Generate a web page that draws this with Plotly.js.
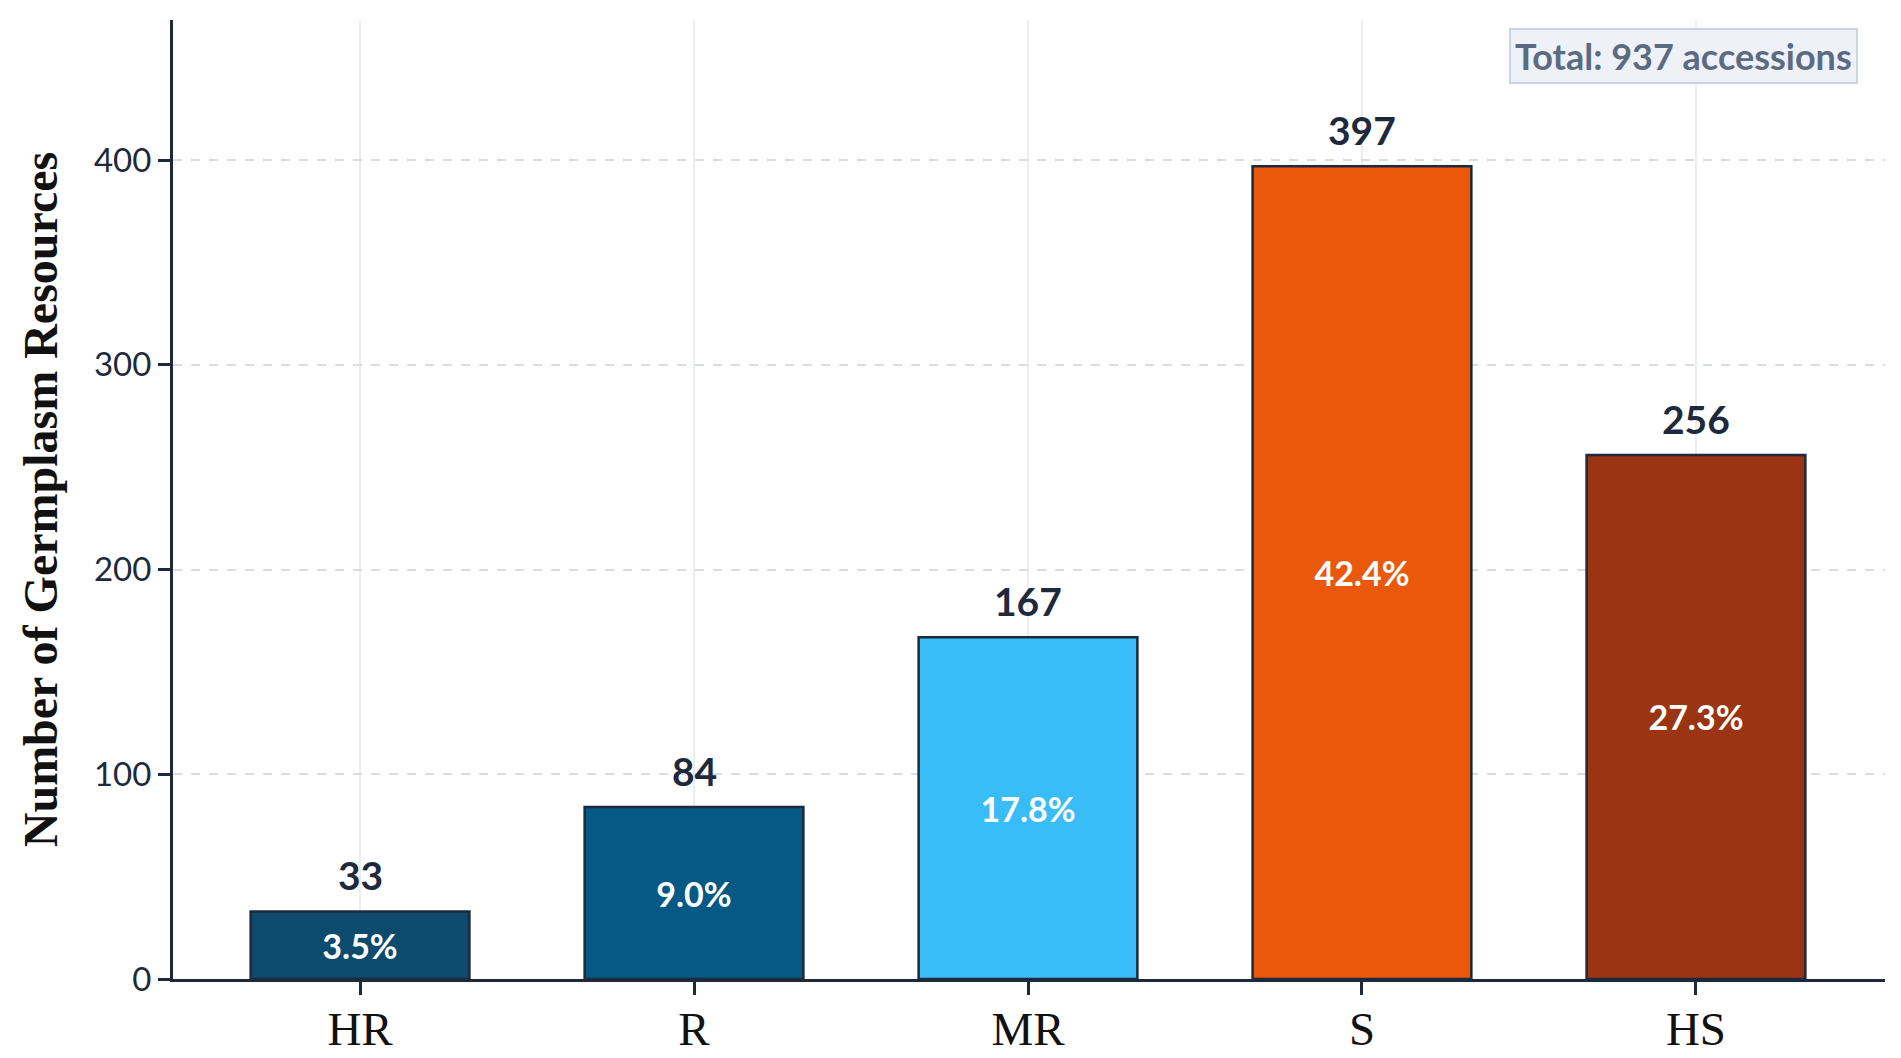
<!DOCTYPE html>
<html>
<head>
<meta charset="utf-8">
<script src="https://cdn.plot.ly/plotly-3.0.1.min.js"></script>
<style>
  html, body { margin: 0; padding: 0; background: #ffffff; }
  #chart { width: 1901px; height: 1058px; }
</style>
</head>
<body>
<div id="chart"></div>
<script>
// resistance grades and germplasm counts
var grades = ['HR', 'R', 'MR', 'S', 'HS'];
var counts = [33, 84, 167, 397, 256];
var shares = ['3.5%', '9.0%', '17.8%', '42.4%', '27.3%'];
var barColors = ['#0c4a6e', '#075985', '#38bdf8', '#ea580c', '#9a3412'];
var totalLabel = 'Total: 937 accessions';

var sansFont = 'Source Sans Pro, Lato, Noto Sans, sans-serif';
var serifFont = 'Liberation Serif, Times New Roman, serif';
var ink = '#1e293b';

var trace = {
  type: 'bar',
  x: grades,
  y: counts,
  text: shares,
  textposition: 'inside',
  insidetextanchor: 'middle',
  textangle: 0,
  constraintext: 'none',
  textfont: {family: sansFont, size: 34, color: '#ffffff', weight: 700},
  marker: {color: barColors, line: {color: ink, width: 2.5}},
  width: 0.655,
  hoverinfo: 'x+y'
};

// value labels above each bar
var annotations = grades.map(function (g, i) {
  return {
    x: g, y: counts[i], xref: 'x', yref: 'y',
    text: '<b>' + counts[i] + '</b>',
    showarrow: false, yanchor: 'bottom', yshift: 11,
    font: {family: sansFont, size: 39, color: ink}
  };
});

annotations.push({
  xref: 'paper', yref: 'paper', x: 0.984, y: 0.992,
  xanchor: 'right', yanchor: 'top',
  text: '<b>' + totalLabel + '</b>',
  showarrow: false,
  font: {family: sansFont, size: 36, color: '#5b6b82'},
  bgcolor: '#eef2f8', bordercolor: '#c9d3e1', borderwidth: 2, borderpad: 4
});

var layout = {
  width: 1901,
  height: 1058,
  margin: {l: 173, r: 16, t: 20, b: 79},
  paper_bgcolor: '#ffffff',
  plot_bgcolor: '#ffffff',
  showlegend: false,
  xaxis: {
    type: 'category',
    range: [-0.56, 4.566],
    showline: true, linecolor: ink, linewidth: 3,
    ticks: 'outside', ticklen: 13, tickwidth: 3, tickcolor: ink,
    ticklabelstandoff: -6,
    showgrid: true, gridcolor: '#ebedf1', gridwidth: 1.5,
    tickfont: {family: serifFont, size: 47, color: '#111111'},
    zeroline: false
  },
  yaxis: {
    range: [0, Math.max.apply(null, counts) * 1.18],
    dtick: 100,
    showline: true, linecolor: ink, linewidth: 3,
    ticks: 'outside', ticklen: 12, tickwidth: 3, tickcolor: ink,
    showgrid: true, gridcolor: '#d7dce6', gridwidth: 1.5, griddash: 'dash',
    zeroline: false,
    tickfont: {family: sansFont, size: 33, color: ink},
    title: {
      text: '<b>Number of Germplasm Resources</b>',
      font: {family: serifFont, size: 48, color: '#111111'},
      standoff: 22
    }
  },
  annotations: annotations
};

Plotly.newPlot('chart', [trace], layout, {displayModeBar: false, responsive: false});
</script>
</body>
</html>
